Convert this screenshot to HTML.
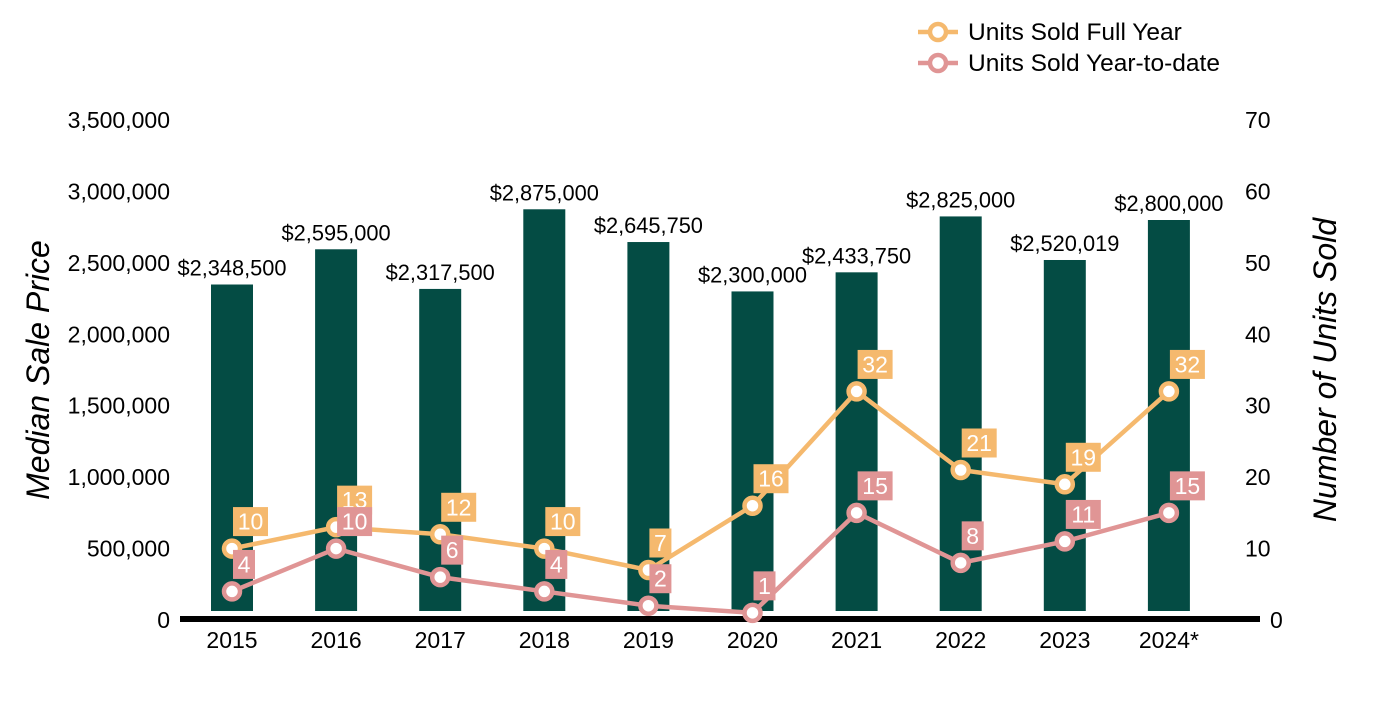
<!DOCTYPE html>
<html><head><meta charset="utf-8"><style>
html,body{margin:0;padding:0;background:#fff;}
svg text{font-family:"Liberation Sans",Arial,sans-serif;}
</style></head><body>
<svg id="chart" width="1400" height="700" xmlns="http://www.w3.org/2000/svg"></svg>
<script>
const categories=["2015","2016","2017","2018","2019","2020","2021","2022","2023","2024*"];
const medianPrice=[2348500,2595000,2317500,2875000,2645750,2300000,2433750,2825000,2520019,2800000];
const unitsFullYear=[10,13,12,10,7,16,32,21,19,32];
const unitsYTD=[4,10,6,4,2,1,15,8,11,15];
const leftTicks=[0,500000,1000000,1500000,2000000,2500000,3000000,3500000];
const rightTicks=[0,10,20,30,40,50,60,70];

const svg=document.getElementById('chart');
const NS="http://www.w3.org/2000/svg";
const y0=620,yTop=120,leftMax=3500000,rightMax=70;
const x0=232,step=104.1;
function xs(i){return x0+i*step;}
function yL(v){return y0-(v/leftMax)*(y0-yTop);}
function yR(v){return y0-(v/rightMax)*(y0-yTop);}
function el(tag,attrs,parent){const e=document.createElementNS(NS,tag);for(const k in attrs)e.setAttribute(k,attrs[k]);(parent||svg).appendChild(e);return e;}
function fmt(v){return v.toLocaleString('en-US');}

leftTicks.forEach(t=>{const e=el('text',{x:170,y:yL(t)+8,'text-anchor':'end','font-size':23,fill:'#000'});e.textContent=fmt(t);

});
rightTicks.forEach(t=>{const e=el('text',{x:t===0?1270:1245,y:yR(t)+8,'text-anchor':'start','font-size':23,fill:'#000'});e.textContent=t;

});

let t1=el('text',{x:49,y:370,'text-anchor':'middle','font-size':32,'font-style':'italic',fill:'#000',transform:'rotate(-90 49 370)'});t1.textContent='Median Sale Price';


let t2=el('text',{x:1336,y:370,'text-anchor':'middle','font-size':32,'font-style':'italic',fill:'#000',transform:'rotate(-90 1336 370)'});t2.textContent='Number of Units Sold';



categories.forEach((c,i)=>{
  const v=medianPrice[i];
  const b=el('rect',{x:xs(i)-21,y:yL(v),width:42,height:611-yL(v),fill:'#044C44'});
  
  
  const l=el('text',{x:xs(i),y:yL(v)-9,'text-anchor':'middle','font-size':21.8,fill:'#000'});l.textContent='$'+fmt(v);
  
  
  const xl=el('text',{x:xs(i),y:648,'text-anchor':'middle','font-size':23,fill:'#000'});xl.textContent=c;
  
  
});
const ax=el('line',{x1:180,x2:1260,y1:619,y2:619,stroke:'#000','stroke-width':6});



function series(vals,color,name){
  const pts=vals.map((v,i)=>xs(i)+','+yR(v)).join(' ');
  const pl=el('polyline',{points:pts,fill:'none',stroke:color,'stroke-width':4.5});
  
  
  vals.forEach((v,i)=>{
    const c=el('circle',{cx:xs(i),cy:yR(v),r:8,fill:'#fff',stroke:color,'stroke-width':4.5});
    
    
  });
  vals.forEach((v,i)=>{
    const s=String(v);const w=s.length>1?35:22;
    const lx=xs(i)+1,cy=yR(v)-27;
    const r=el('rect',{x:lx,y:cy-14.5,width:w,height:29,fill:color});
    
    
    const t=el('text',{x:lx+w/2,y:cy+8,'text-anchor':'middle','font-size':23,fill:'#fff'});t.textContent=s;
    
    
  });
}
series(unitsFullYear,'#F5B96E','units-full-year');
series(unitsYTD,'#E09595','units-ytd');

[['Units Sold Full Year','#F5B96E',32],['Units Sold Year-to-date','#E09595',63]].forEach(([lab,col,y],k)=>{
  const g=el('g',{});
  
  
  el('line',{x1:918,x2:958,y1:y,y2:y,stroke:col,'stroke-width':4.5},g);
  el('circle',{cx:938,cy:y,r:8,fill:'#fff',stroke:col,'stroke-width':4.5},g);
  const t=el('text',{x:968,y:y+8,'font-size':24.5,fill:'#000'},g);t.textContent=lab;
});
</script>
</body></html>
